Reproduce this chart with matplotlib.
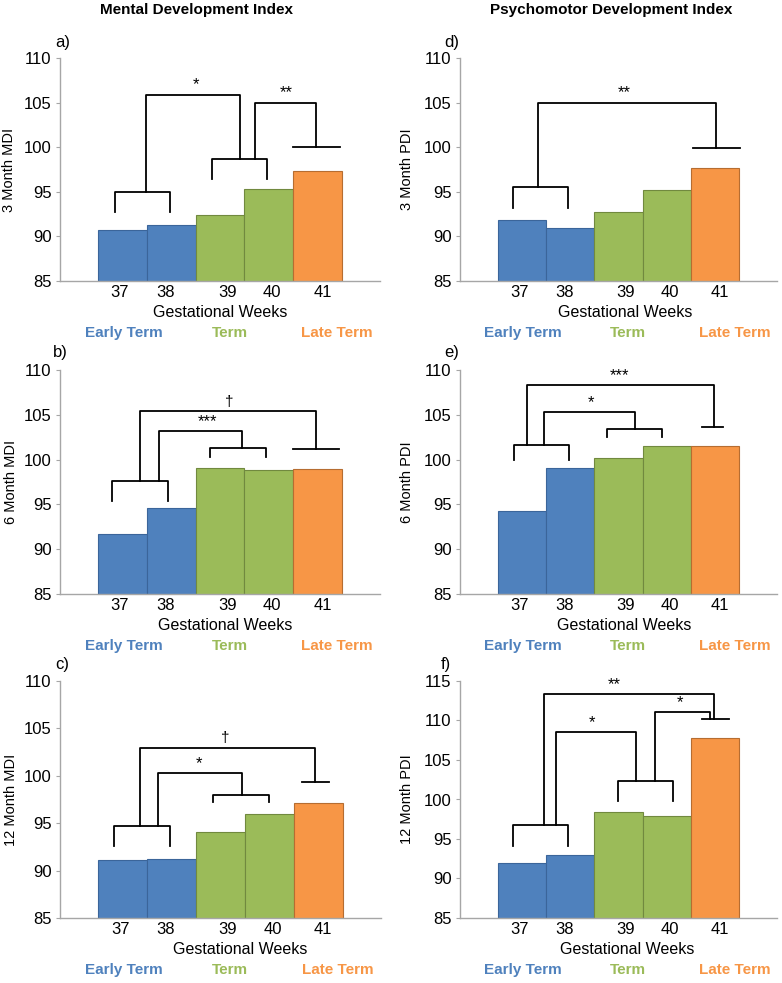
import matplotlib
matplotlib.use('Agg')
import matplotlib.pyplot as plt

plt.rcParams['font.family'] = ['Liberation Sans', 'DejaVu Sans']

# ---------------- data ----------------
weeks = ['37', '38', '39', '40', '41']
groups = ['Early Term', 'Term', 'Late Term']
bar_group = [0, 0, 1, 1, 2]

mdi_3m = [90.7, 91.25, 92.4, 95.3, 97.35]
mdi_6m = [91.73, 94.56, 99.1, 98.8, 98.9]
mdi_12m = [91.07, 91.2, 94.06, 95.96, 97.08]
pdi_3m = [91.85, 90.9, 92.75, 95.2, 97.65]
pdi_6m = [94.23, 99.1, 100.2, 101.48, 101.55]
pdi_12m = [91.95, 92.96, 98.4, 97.94, 107.76]

ylabels = ['3 Month MDI', '6 Month MDI', '12 Month MDI',
           '3 Month PDI', '6 Month PDI', '12 Month PDI']
panel_letters = ['a)', 'b)', 'c)', 'd)', 'e)', 'f)']
col_titles = ['Mental Development Index', 'Psychomotor Development Index']

# significance brackets (x in bar-index units, y in score units)
# pair: (x_left, x_right, y_top, y_leg_bottom)
# link: (x_start, y_start, y_top, x_end, y_end, label, label_x)
# tbar: (x_left, x_right, y)
pairs_a = [(-0.15, 0.98, 95.0, 92.7), (1.83, 2.96, 98.7, 96.45)]
links_a = [(0.48, 95.0, 105.9, 2.42, 98.7, '*', 1.5),
           (2.72, 98.7, 105.0, 3.97, 100.0, '**', 3.35)]
tbar_a = (3.49, 4.47, 100.0)

pairs_b = [(-0.21, 0.93, 97.6, 95.4), (1.80, 2.94, 101.33, 100.3)]
links_b = [(0.74, 97.6, 103.2, 2.46, 101.33, '***', 1.75),
           (0.37, 97.6, 105.4, 3.96, 101.2, '\u2020', 2.18)]
tbar_b = (3.50, 4.43, 101.2)

pairs_c = [(-0.18, 0.96, 94.7, 92.55), (1.85, 2.99, 98.0, 97.2)]
links_c = [(0.73, 94.7, 100.27, 2.44, 98.0, '*', 1.57),
           (0.35, 94.7, 102.98, 3.94, 99.3, '\u2020', 2.09)]
tbar_c = (3.67, 4.22, 99.3)

pairs_d = [(-0.19, 0.95, 95.55, 93.2)]
links_d = [(0.33, 95.55, 105.0, 4.02, 99.9, '**', 2.12)]
tbar_d = (3.55, 4.51, 99.9)

pairs_e = [(-0.17, 0.97, 101.67, 100.0), (1.77, 2.91, 103.4, 102.5)]
links_e = [(0.46, 101.67, 105.27, 2.34, 103.4, '*', 1.44),
           (0.10, 101.67, 108.3, 3.97, 103.65, '***', 2.02)]
tbar_e = (3.73, 4.17, 103.65)

pairs_f = [(-0.18, 0.96, 96.72, 94.06), (1.99, 3.13, 102.4, 99.75)]
links_f = [(0.71, 96.72, 108.51, 2.37, 102.4, '*', 1.45),
           (0.46, 96.72, 113.36, 3.97, 110.2, '**', 1.91),
           (2.76, 102.4, 111.09, 3.90, 110.2, '*', 3.27)]
tbar_f = (3.73, 4.29, 110.2)

# ---------------- style ----------------
fill_colors = ['#4F81BD', '#9BBB59', '#F79646']
edge_colors = ['#3B659A', '#71893F', '#B66D31']
text_colors = ['#4F81BD', '#9BBB59', '#F79646']
spine_color = '#A6A6A6'
week_shift = [-0.05, -0.12, 0.15, 0.07, 0.1]
group_x = [0.03, 2.2, 4.4]

W, H = 782, 983
fig = plt.figure(figsize=(W / 100, H / 100), dpi=100)


def rect(l, r, t, b):
    return [l / W, 1 - b / H, (r - l) / W, (b - t) / H]


panels = [
    dict(vals=mdi_3m, ymax=110, box=(60, 380, 58, 281), pairs=pairs_a, links=links_a, tbar=tbar_a,
         lab=(55, 43), ylx=9, xlab_x=2.0),
    dict(vals=mdi_6m, ymax=110, box=(60, 380, 370, 594), pairs=pairs_b, links=links_b, tbar=tbar_b,
         lab=(53, 352), ylx=11, xlab_x=2.1),
    dict(vals=mdi_12m, ymax=110, box=(60, 381, 681, 918), pairs=pairs_c, links=links_c, tbar=tbar_c,
         lab=(55, 665), ylx=11, xlab_x=2.4),
    dict(vals=pdi_3m, ymax=110, box=(460, 777, 58, 281), pairs=pairs_d, links=links_d, tbar=tbar_d,
         lab=(444, 43), ylx=407, xlab_x=2.14),
    dict(vals=pdi_6m, ymax=110, box=(460, 777, 370, 594), pairs=pairs_e, links=links_e, tbar=tbar_e,
         lab=(444, 353), ylx=407, xlab_x=2.12),
    dict(vals=pdi_12m, ymax=115, box=(460, 777, 681, 918), pairs=pairs_f, links=links_f, tbar=tbar_f,
         lab=(441, 665), ylx=407, xlab_x=2.18),
]

lw_br = 1.3
for i, p in enumerate(panels):
    l, r, t, b = p['box']
    ax = fig.add_axes(rect(l, r, t, b))
    xs = list(range(len(weeks)))
    ax.bar(xs, p['vals'], width=1.0,
           color=[fill_colors[g] for g in bar_group],
           edgecolor=[edge_colors[g] for g in bar_group], linewidth=0.8, zorder=2)
    ax.set_ylim(85, p['ymax'])
    ax.set_xlim(-1.28, 5.28)
    ax.set_yticks(list(range(85, p['ymax'] + 1, 5)))
    ax.set_xticks([x + s for x, s in zip(xs, week_shift)], weeks)
    ax.tick_params(axis='y', length=3, width=0.8, color=spine_color, labelsize=12, pad=3)
    ax.tick_params(axis='x', length=0, labelsize=12, pad=3)
    for sp in ['top', 'right']:
        ax.spines[sp].set_visible(False)
    for sp in ['left', 'bottom']:
        ax.spines[sp].set_color(spine_color)
        ax.spines[sp].set_linewidth(1.0)

    # brackets
    for (x0, x1, yt, yb) in p['pairs']:
        ax.plot([x0, x0, x1, x1], [yb, yt, yt, yb], color='black', lw=lw_br, clip_on=False, zorder=3)
    for (xa, ya, yt, xb, yb, txt, tx) in p['links']:
        ax.plot([xa, xa, xb, xb], [ya, yt, yt, yb], color='black', lw=lw_br, clip_on=False, zorder=3)
        size = 12 if '*' in txt else 11
        ax.annotate(txt, xy=(tx, yt), xytext=(0, 1.5), textcoords='offset points',
                    ha='center', va='bottom', fontsize=size, annotation_clip=False)
    tx0, tx1, ty = p['tbar']
    ax.plot([tx0, tx1], [ty, ty], color='black', lw=lw_br, clip_on=False, zorder=3)

    # x label and group labels
    ax.annotate('Gestational Weeks', xy=(p['xlab_x'], 0), xycoords=('data', 'axes fraction'),
                xytext=(0, -23), textcoords='offset points', ha='center', va='center',
                fontsize=11.5, annotation_clip=False)
    for gx, gname, gc in zip(group_x, groups, text_colors):
        ax.annotate(gname, xy=(gx, 0), xycoords=('data', 'axes fraction'),
                    xytext=(0, -37.4), textcoords='offset points', ha='center', va='center',
                    fontsize=11, fontweight='bold', color=gc, annotation_clip=False)

    # y label and panel letter
    fig.text(p['ylx'] / W, 1 - ((t + b) / 2) / H, ylabels[i], rotation=90,
             ha='center', va='center', fontsize=10.5)
    fig.text(p['lab'][0] / W, 1 - p['lab'][1] / H, panel_letters[i],
             ha='left', va='center', fontsize=12)

fig.text(197 / W, 1 - 10 / H, col_titles[0], ha='center', va='center', fontsize=11, fontweight='bold')
fig.text(611 / W, 1 - 10 / H, col_titles[1], ha='center', va='center', fontsize=11, fontweight='bold')

fig.savefig('out.png', dpi=100, facecolor='white')
